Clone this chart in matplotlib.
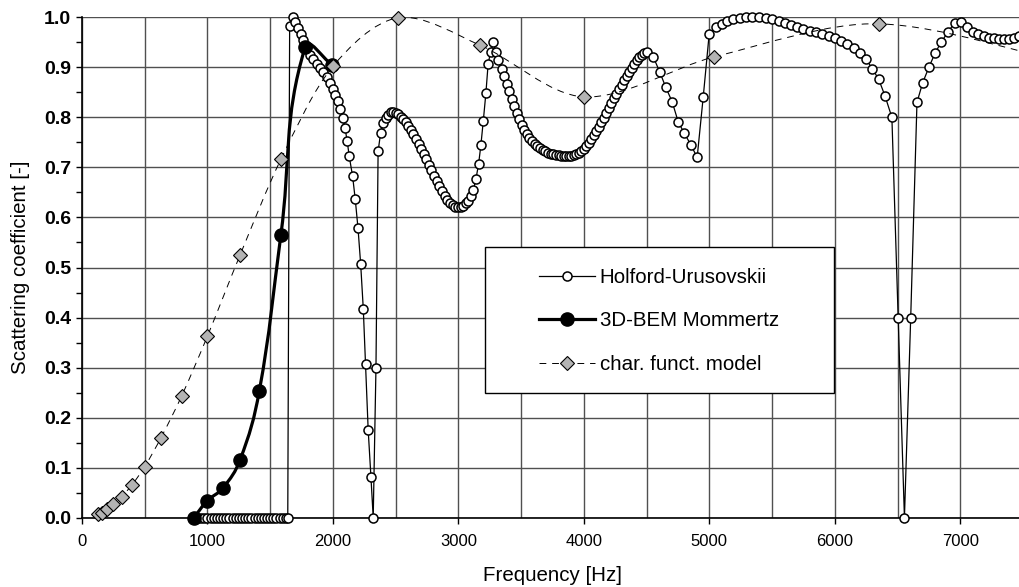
import math
import matplotlib
matplotlib.use("Agg")
import matplotlib.pyplot as plt
from matplotlib.path import Path
from matplotlib.patches import PathPatch, Rectangle
from matplotlib.lines import Line2D
from matplotlib.ticker import MultipleLocator, FormatStrFormatter

plt.rcParams["font.family"] = ["Liberation Sans", "DejaVu Sans"]

# Holford-Urusovskii model
hu_freq = [
    900, 925, 950, 975, 1000, 1025, 1050, 1075, 1100, 1125, 1150, 1175, 1200,
    1225, 1250, 1275, 1300, 1325, 1350, 1375, 1400, 1425, 1450, 1475, 1500,
    1525, 1550, 1575, 1600, 1625, 1640,
    1655, 1678, 1700, 1722, 1742, 1763, 1790, 1817, 1843, 1870, 1896, 1923,
    1950, 1976, 1998, 2018, 2040, 2060, 2078, 2096, 2114, 2130, 2157, 2178,
    2200, 2221, 2242, 2260, 2281, 2303, 2321, 2343, 2360, 2380, 2400, 2420,
    2441, 2462, 2481, 2502, 2520, 2542, 2560, 2582, 2600, 2622, 2640, 2661,
    2683, 2701, 2723, 2741, 2763, 2783, 2805, 2826, 2847, 2869, 2890, 2911,
    2932, 2954, 2974, 2996, 3017, 3040, 3060, 3078, 3098, 3119, 3140, 3161,
    3179, 3198, 3219, 3237, 3256, 3278, 3299, 3317, 3344, 3365, 3384, 3405,
    3424, 3445, 3464, 3485, 3503, 3524, 3543, 3564, 3586, 3607, 3628, 3649,
    3671, 3692, 3713, 3735, 3756, 3777, 3800, 3820, 3840, 3860, 3880, 3900,
    3920, 3940, 3960, 3980, 4000, 4020, 4040, 4060, 4080, 4100, 4120, 4140,
    4160, 4180, 4200, 4220, 4240, 4260, 4280, 4300, 4320, 4340, 4360, 4380,
    4400, 4420, 4440, 4460, 4480, 4500,
    4553, 4606, 4653, 4704, 4752, 4799, 4853, 4903, 4951, 4999, 5050, 5097,
    5142, 5190, 5243, 5296, 5344, 5394, 5448, 5500, 5554, 5600, 5650, 5700,
    5750, 5800, 5850, 5900, 5950, 6000, 6050, 6100, 6150, 6200, 6250, 6300,
    6350, 6400, 6455, 6505, 6555, 6605, 6655, 6700, 6750, 6800, 6850, 6900,
    6955, 7005, 7055, 7100, 7145, 7190, 7230, 7270, 7310, 7350, 7390, 7430,
    7470, 7510,
]
hu_coef = [
    0.0, 0.0, 0.0, 0.0, 0.0, 0.0, 0.0, 0.0, 0.0, 0.0, 0.0, 0.0, 0.0,
    0.0, 0.0, 0.0, 0.0, 0.0, 0.0, 0.0, 0.0, 0.0, 0.0, 0.0, 0.0,
    0.0, 0.0, 0.0, 0.0, 0.0, 0.0,
    0.983, 1.000, 0.990, 0.979, 0.967, 0.955, 0.940, 0.925, 0.917, 0.907, 0.899, 0.890,
    0.880, 0.869, 0.857, 0.845, 0.832, 0.817, 0.799, 0.779, 0.752, 0.722, 0.682, 0.636,
    0.578, 0.507, 0.417, 0.307, 0.175, 0.081, 0.000, 0.300, 0.732, 0.769, 0.789, 0.799,
    0.805, 0.810, 0.811, 0.809, 0.806, 0.801, 0.796, 0.790, 0.783, 0.775, 0.767, 0.757,
    0.747, 0.737, 0.727, 0.717, 0.705, 0.694, 0.683, 0.672, 0.662, 0.652, 0.643, 0.635,
    0.629, 0.624, 0.621, 0.620, 0.621, 0.623, 0.628, 0.633, 0.642, 0.655, 0.677, 0.707,
    0.744, 0.792, 0.848, 0.907, 0.930, 0.950, 0.930, 0.914, 0.897, 0.882, 0.867, 0.852,
    0.837, 0.822, 0.809, 0.797, 0.785, 0.775, 0.767, 0.759, 0.752, 0.747, 0.742, 0.738,
    0.735, 0.732, 0.729, 0.727, 0.726, 0.725, 0.724, 0.723, 0.722, 0.722, 0.722, 0.723,
    0.724, 0.726, 0.729, 0.733, 0.737, 0.742, 0.749, 0.756, 0.764, 0.772, 0.781, 0.790,
    0.799, 0.808, 0.818, 0.828, 0.838, 0.847, 0.856, 0.865, 0.874, 0.883, 0.891, 0.899,
    0.907, 0.914, 0.920, 0.925, 0.929, 0.931,
    0.921, 0.890, 0.860, 0.831, 0.791, 0.769, 0.745, 0.720, 0.840, 0.967, 0.980, 0.987,
    0.993, 0.997, 0.999, 1.000, 1.000, 1.000, 0.999, 0.997, 0.993, 0.989, 0.985, 0.981,
    0.976, 0.972, 0.970, 0.967, 0.963, 0.958, 0.952, 0.946, 0.939, 0.929, 0.916, 0.897,
    0.876, 0.843, 0.800, 0.400, 0.000, 0.400, 0.830, 0.869, 0.900, 0.929, 0.951, 0.970,
    0.989, 0.990, 0.980, 0.971, 0.966, 0.962, 0.959, 0.958, 0.957, 0.957, 0.957, 0.959,
    0.962, 0.965,
]

# 3D-BEM (Mommertz)
bem_freq = [891, 1000, 1122, 1259, 1413, 1585, 1778, 1995]
bem_coef = [0.0, 0.034, 0.059, 0.115, 0.253, 0.565, 0.940, 0.905]

# characteristic function model, third-octave bands
cf_freq = [125, 157, 198, 250, 315, 397, 500, 630, 794, 1000, 1260, 1587,
           2000, 2520, 3175, 4000, 5040, 6350, 8000]
cf_coef = [0.007, 0.010, 0.017, 0.027, 0.042, 0.065, 0.102, 0.160, 0.243,
           0.363, 0.525, 0.717, 0.902, 0.999, 0.944, 0.841, 0.921, 0.987, 0.900]

# pixel per data unit, used to smooth lines in screen space like Excel does
SX = 941 / 7500
SY = 500.4


def smooth_path(xs, ys, k=0.3):
    """Smoothed line as cubic bezier through the points (tangent lengths
    scaled by the segment length, so no big overshoot)."""
    px = [x * SX for x in xs]
    py = [y * SY for y in ys]
    n = len(px)
    tang = []
    for i in range(n):
        a = max(i - 1, 0)
        b = min(i + 1, n - 1)
        dx, dy = px[b] - px[a], py[b] - py[a]
        norm = math.hypot(dx, dy) or 1.0
        tang.append((dx / norm, dy / norm))
    verts = [(xs[0], ys[0])]
    codes = [Path.MOVETO]
    for i in range(n - 1):
        d = math.hypot(px[i + 1] - px[i], py[i + 1] - py[i]) * k
        c1 = (px[i] + tang[i][0] * d, py[i] + tang[i][1] * d)
        c2 = (px[i + 1] - tang[i + 1][0] * d, py[i + 1] - tang[i + 1][1] * d)
        verts += [(c1[0] / SX, c1[1] / SY), (c2[0] / SX, c2[1] / SY),
                  (xs[i + 1], ys[i + 1])]
        codes += [Path.CURVE4] * 3
    return Path(verts, codes)


fig = plt.figure(figsize=(10.19, 5.87), dpi=100)
ax = fig.add_axes([82 / 1019, 1 - 517.7 / 587, 941 / 1019, 500.4 / 587])

ax.set_xlim(0, 7500)
ax.set_ylim(0, 1.0)

ax.xaxis.set_major_locator(MultipleLocator(1000))
ax.xaxis.set_minor_locator(MultipleLocator(500))
ax.yaxis.set_major_locator(MultipleLocator(0.1))
ax.yaxis.set_minor_locator(MultipleLocator(0.05))
ax.yaxis.set_major_formatter(FormatStrFormatter("%.1f"))

ax.grid(True, which="major", color="#505050", linewidth=1.0)
ax.grid(True, which="minor", axis="x", color="#505050", linewidth=1.0)
ax.set_axisbelow(True)

for side in ("top", "right"):
    ax.spines[side].set_visible(False)
for side in ("left", "bottom"):
    ax.spines[side].set_linewidth(1.2)
    ax.spines[side].set_color("black")

ax.tick_params(axis="both", which="major", direction="out", length=4, width=1.0)
ax.tick_params(axis="y", which="minor", direction="out", length=4, width=1.0)
ax.tick_params(axis="x", which="minor", length=0)
ax.tick_params(axis="x", labelsize=12, pad=8)
ax.tick_params(axis="y", labelsize=14, pad=4)
for lab in ax.get_yticklabels():
    lab.set_fontweight("bold")

# Holford-Urusovskii
ax.plot(hu_freq, hu_coef, color="black", linewidth=0.9, marker="o",
        markersize=6.5, markerfacecolor="white", markeredgecolor="black",
        markeredgewidth=1.1, zorder=3, clip_on=False)

# BEM, smoothed
ax.add_patch(PathPatch(smooth_path(bem_freq, bem_coef, k=0.4), fill=False,
                       edgecolor="black", linewidth=2.3, zorder=4,
                       clip_on=False))
ax.plot(bem_freq, bem_coef, linestyle="none", marker="o", markersize=9.5,
        markerfacecolor="black", markeredgecolor="black", zorder=4,
        clip_on=False)

# characteristic function model, smoothed dashed
ax.add_patch(PathPatch(smooth_path(cf_freq, cf_coef), fill=False,
                       edgecolor="black", linewidth=0.7,
                       linestyle=(0, (7, 6)), zorder=5, clip_on=False))
ax.plot(cf_freq, cf_coef, linestyle="none", marker="D", markersize=7,
        markerfacecolor="#b4b4b4", markeredgecolor="black",
        markeredgewidth=0.8, zorder=5, clip_on=False)

ax.set_xlabel("Frequency [Hz]", fontsize=14.8)
ax.set_ylabel("Scattering coefficient [-]", fontsize=14.8)
ax.xaxis.set_label_coords(0.5, -0.096)
ax.yaxis.set_label_coords(-0.055, 0.5)

# legend box
box = Rectangle(((485 - 82) / 941, (517.7 - 393.3) / 500.4),
                (834 - 485) / 941, (393.3 - 246.7) / 500.4,
                transform=ax.transAxes, facecolor="white",
                edgecolor="black", linewidth=1.0, zorder=6)
ax.add_patch(box)

handles = [
    Line2D([], [], color="black", linewidth=0.9, marker="o", markersize=6.5,
           markerfacecolor="white", markeredgecolor="black",
           markeredgewidth=1.1),
    Line2D([], [], color="black", linewidth=2.3, marker="o", markersize=9.5,
           markerfacecolor="black"),
    Line2D([], [], color="black", linewidth=0.7, linestyle=(0, (7, 6)),
           marker="D", markersize=7, markerfacecolor="#b4b4b4",
           markeredgecolor="black", markeredgewidth=0.8),
]
labels = ["Holford-Urusovskii", "3D-BEM Mommertz", "char. funct. model"]
leg = ax.legend(handles, labels, loc="center left",
                bbox_to_anchor=((539 - 82) / 941, (517.7 - 321) / 500.4),
                frameon=False, fontsize=14.8, numpoints=1, handlelength=2.7,
                handletextpad=0.25, labelspacing=1.2, borderpad=0,
                borderaxespad=0)
leg.set_zorder(7)

fig.savefig("out.png", dpi=100)
